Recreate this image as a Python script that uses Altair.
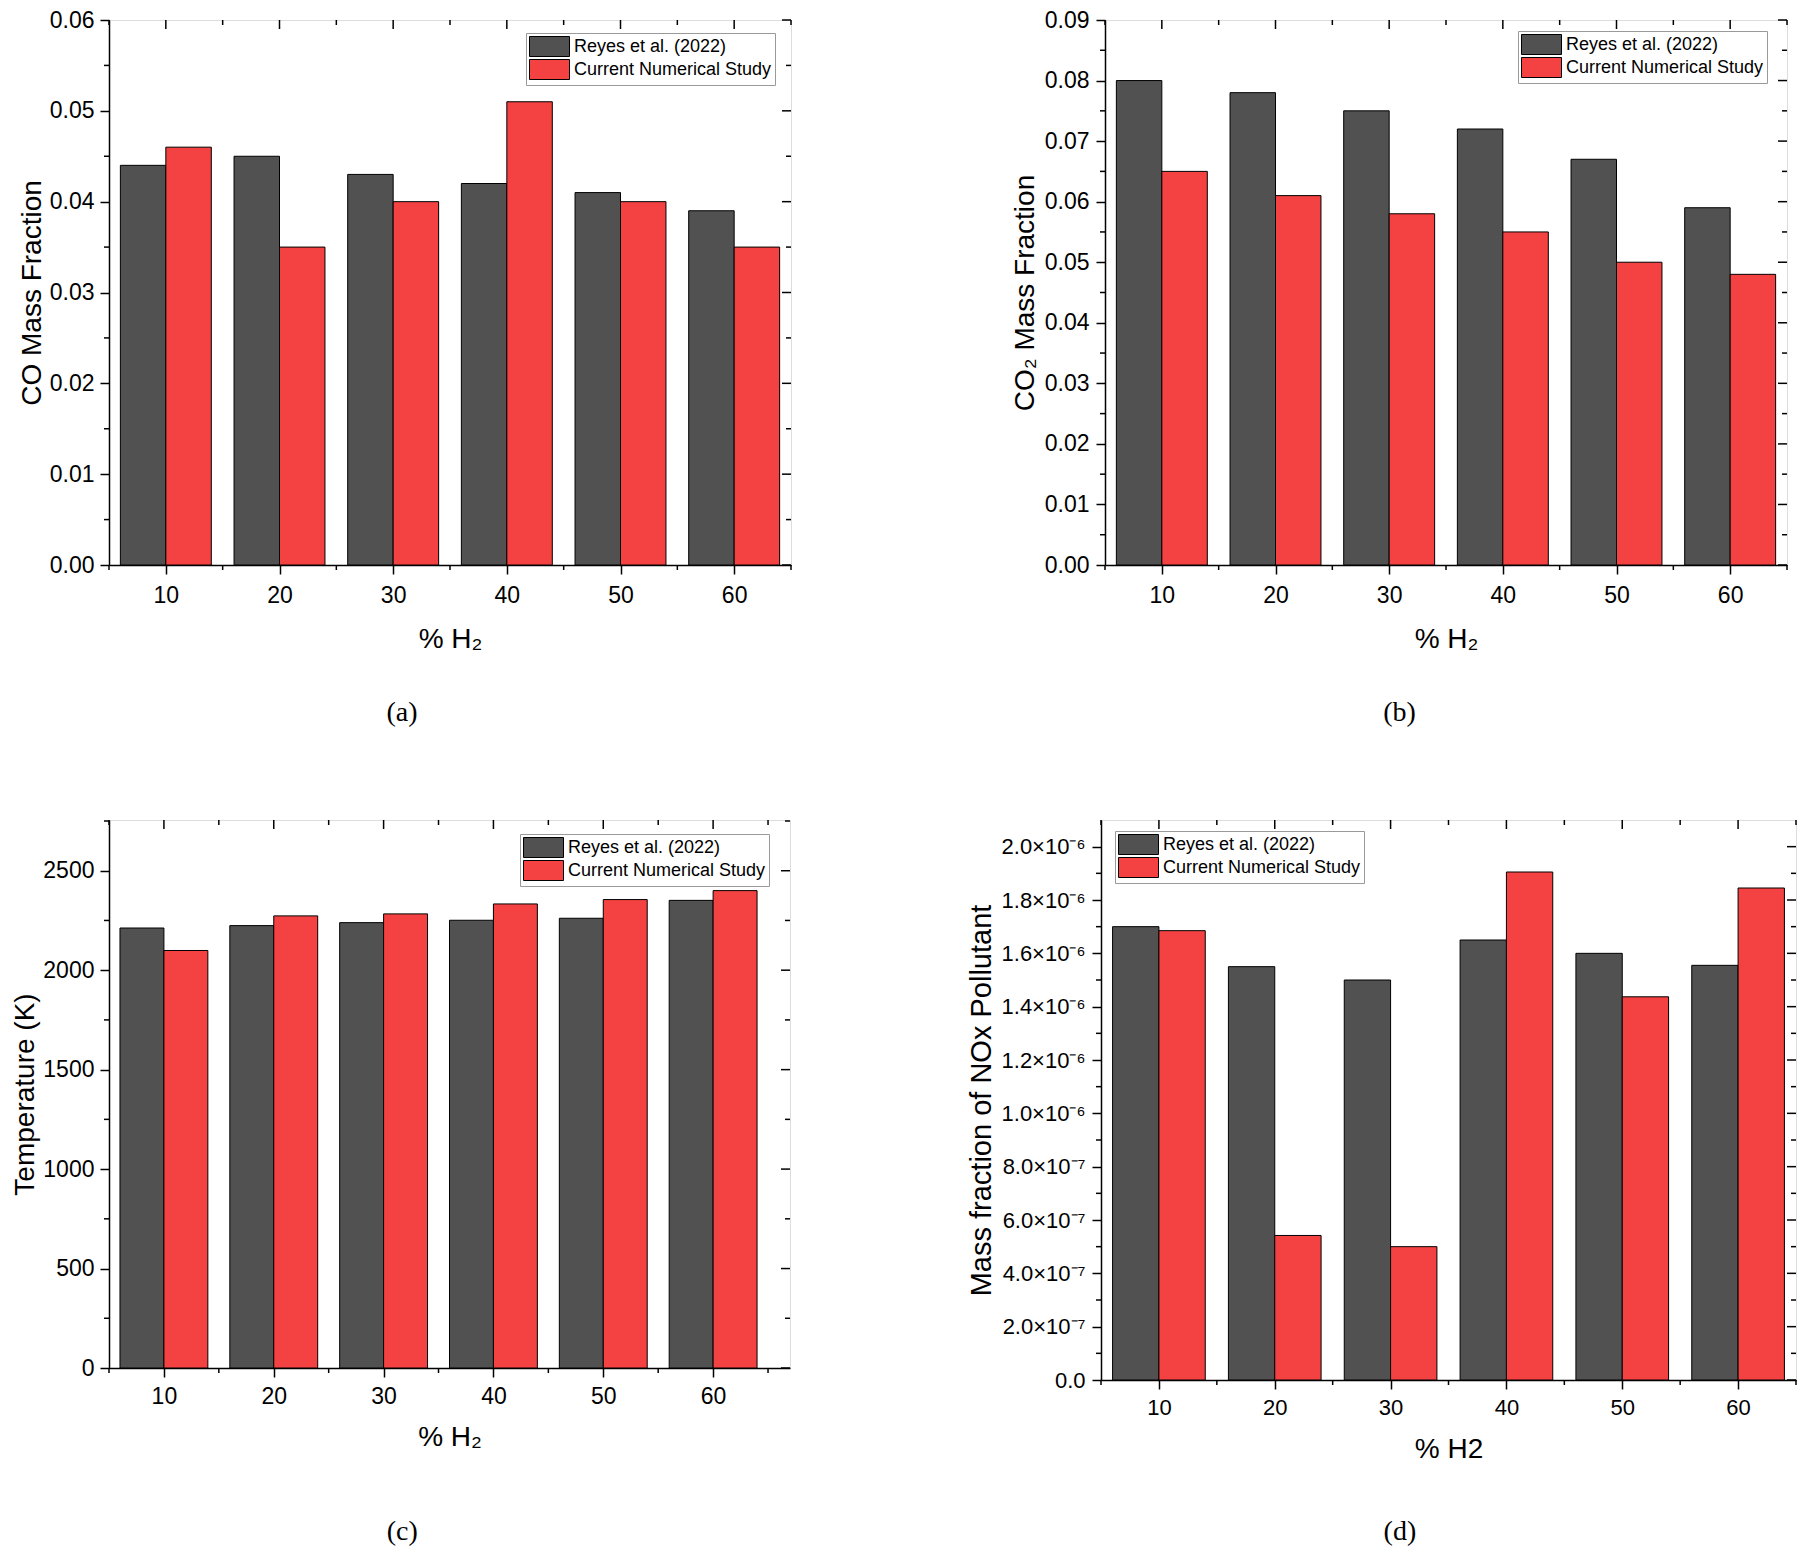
import altair as alt
import pandas as pd

# ---------------- data ----------------
h2 = [10, 20, 30, 40, 50, 60]
series_names = ["Reyes et al. (2022)", "Current Numerical Study"]

co_reyes = [0.044, 0.045, 0.043, 0.042, 0.041, 0.039]
co_current = [0.046, 0.035, 0.040, 0.051, 0.040, 0.035]

co2_reyes = [0.080, 0.078, 0.075, 0.072, 0.067, 0.059]
co2_current = [0.065, 0.061, 0.058, 0.055, 0.050, 0.048]

temp_reyes = [2212, 2224, 2239, 2251, 2261, 2351]
temp_current = [2099, 2273, 2283, 2333, 2355, 2400]

nox_reyes = [1.70e-6, 1.55e-6, 1.50e-6, 1.65e-6, 1.60e-6, 1.555e-6]
nox_current = [1.685e-6, 0.542e-6, 0.50e-6, 1.905e-6, 1.437e-6, 1.845e-6]

# tick values
x_major = [10, 20, 30, 40, 50, 60]
x_minor = [5, 15, 25, 35, 45, 55, 65]
co_major = [0.0, 0.01, 0.02, 0.03, 0.04, 0.05, 0.06]
co_minor = [0.005, 0.015, 0.025, 0.035, 0.045, 0.055]
co2_major = [0.0, 0.01, 0.02, 0.03, 0.04, 0.05, 0.06, 0.07, 0.08, 0.09]
co2_minor = [0.005, 0.015, 0.025, 0.035, 0.045, 0.055, 0.065, 0.075, 0.085]
temp_major = [0, 500, 1000, 1500, 2000, 2500]
temp_minor = [250, 750, 1250, 1750, 2250, 2750]
nox_major = [0.0, 2e-7, 4e-7, 6e-7, 8e-7, 1.0e-6, 1.2e-6, 1.4e-6, 1.6e-6, 1.8e-6, 2.0e-6]
nox_minor = [1e-7, 3e-7, 5e-7, 7e-7, 9e-7, 1.1e-6, 1.3e-6, 1.5e-6, 1.7e-6, 1.9e-6]

# ---------------- style ----------------
DARK = "#515151"
RED = "#F44242"
SANS = "Liberation Sans"
SERIF = "Liberation Serif"
BAR_W = 4
MAJOR_LEN = 9
MINOR_LEN = 5


def bars_df(reyes, current):
    return pd.DataFrame({
        "h2": h2 + h2,
        "series": [series_names[0]] * len(h2) + [series_names[1]] * len(h2),
        "value": list(reyes) + list(current),
    })


def tick_rules(vals, side, length, W, H, xs, ys):
    df = pd.DataFrame({"t": vals})
    if side == "left":
        enc = dict(y=alt.Y("t:Q", scale=ys), x=alt.value(0), x2=alt.value(-length))
    elif side == "right":
        enc = dict(y=alt.Y("t:Q", scale=ys), x=alt.value(W), x2=alt.value(W - length))
    elif side == "bottom":
        enc = dict(x=alt.X("t:Q", scale=xs), y=alt.value(H), y2=alt.value(H + length))
    else:
        enc = dict(x=alt.X("t:Q", scale=xs), y=alt.value(0), y2=alt.value(length))
    return alt.Chart(df).mark_rule(color="black", strokeWidth=1.5).encode(**enc)


def panel(reyes, current, ytitle, xtitle, caption, W, H, xdom, ydom,
          ymajor, yminor, legend_xy, yfmt=None, ylabelexpr=None,
          title_size=28, ytitle_size=28, label_size=23, xlabel_pad=10, xtitle_pad=18,
          cap_offset=46, cap_dx=0, ytitle_pad=5, ylabel_pad=7):
    xs = alt.Scale(domain=xdom, nice=False, zero=False)
    ys = alt.Scale(domain=ydom, nice=False, zero=True)
    yaxis_kw = dict(
        values=ymajor, title=ytitle, tickSize=MAJOR_LEN, tickWidth=1.5, tickColor="black",
        domainColor="black", domainWidth=1.5, labelFont=SANS, labelFontSize=label_size,
        labelColor="black", labelPadding=ylabel_pad, titleFont=SANS, titleFontSize=ytitle_size,
        titleFontWeight="normal", titleColor="black", titlePadding=ytitle_pad, grid=False,
    )
    if yfmt is not None:
        yaxis_kw["format"] = yfmt
    if ylabelexpr is not None:
        yaxis_kw["labelExpr"] = ylabelexpr
    bars = alt.Chart(bars_df(reyes, current)).transform_calculate(
        x0=f"datum.series == '{series_names[0]}' ? datum.h2 - {BAR_W} : datum.h2",
        x1=f"datum.series == '{series_names[0]}' ? datum.h2 : datum.h2 + {BAR_W}",
        base="0",
    ).mark_bar(stroke="black", strokeWidth=1, opacity=1).encode(
        x=alt.X("x0:Q", scale=xs, axis=alt.Axis(
            values=x_major, title=xtitle, format="d", tickSize=MAJOR_LEN, tickWidth=1.5,
            tickColor="black", domainColor="black", domainWidth=1.5, labelFont=SANS,
            labelFontSize=label_size, labelColor="black", labelPadding=xlabel_pad,
            titleFont=SANS, titleFontSize=title_size, titleFontWeight="normal",
            titleColor="black", titlePadding=xtitle_pad, grid=False)),
        x2="x1:Q",
        y=alt.Y("value:Q", scale=ys, axis=alt.Axis(**yaxis_kw)),
        y2="base:Q",
        fill=alt.Fill("series:N", scale=alt.Scale(domain=series_names, range=[DARK, RED]),
                      legend=alt.Legend(
                          title=None, orient="none", legendX=legend_xy[0], legendY=legend_xy[1],
                          symbolType="M-1,-1H3V1H-1Z", symbolSize=400,
                          symbolStrokeColor="black", symbolStrokeWidth=1, symbolOpacity=1,
                          labelOffset=24, labelFont=SANS, labelFontSize=18, labelColor="black",
                          labelLimit=0, strokeColor="#9a9a9a", fillColor="white",
                          padding=3, rowPadding=-2)),
    )
    layers = [
        bars,
        tick_rules(yminor, "left", MINOR_LEN, W, H, xs, ys),
        tick_rules(ymajor, "right", MAJOR_LEN, W, H, xs, ys),
        tick_rules(yminor, "right", MINOR_LEN, W, H, xs, ys),
        tick_rules(x_minor, "bottom", MINOR_LEN, W, H, xs, ys),
        tick_rules(x_major, "top", MAJOR_LEN, W, H, xs, ys),
        tick_rules(x_minor, "top", MINOR_LEN, W, H, xs, ys),
    ]
    return alt.layer(*layers).properties(
        width=W, height=H,
        title=alt.TitleParams(text=caption, orient="bottom", anchor="middle", frame="bounds",
                              font=SERIF, fontSize=28, fontWeight="normal", color="black",
                              offset=cap_offset, dx=cap_dx),
    )


nox_expr = ("datum.value == 0 ? '0.0' : (datum.value < 9.5e-7 ? "
            "format(datum.value * 1e7, '.1f') + '×10⁻⁷' : "
            "format(datum.value * 1e6, '.1f') + '×10⁻⁶')")

pa = panel(co_reyes, co_current, "CO Mass Fraction", "% H₂", "(a)", 682, 545,
           [5, 65], [0, 0.06], co_major, co_minor, (417, 13), yfmt=".2f", cap_dx=-3,
           ytitle_pad=3, ylabel_pad=6)
pb = panel(co2_reyes, co2_current, "CO₂ Mass Fraction", "% H₂", "(b)", 682, 545,
           [5, 65], [0, 0.09], co2_major, co2_minor, (413, 11), yfmt=".2f")
pc = panel(temp_reyes, temp_current, "Temperature (K)", "% H₂", "(c)", 681, 548,
           [5, 67], [0, 2755], temp_major, temp_minor, (411, 14), yfmt="d",
           xlabel_pad=8, xtitle_pad=15, cap_offset=67, cap_dx=1, ytitle_pad=3, ylabel_pad=6)
pd_ = panel(nox_reyes, nox_current, "Mass fraction of NOx Pollutant", "% H2", "(d)", 695, 560,
            [5, 65], [0, 2.1e-6], nox_major, nox_minor, (14, 11), ylabelexpr=nox_expr,
            ytitle_size=29, label_size=22, xlabel_pad=8, xtitle_pad=17, cap_offset=55,
            cap_dx=18)

row1 = alt.hconcat(pa, pb, spacing=217).resolve_scale(fill="independent").resolve_legend(fill="independent")
row2 = alt.hconcat(pc, pd_, spacing=174).resolve_scale(fill="independent").resolve_legend(fill="independent")
chart = alt.vconcat(row1, row2, spacing=90).resolve_scale(fill="independent").resolve_legend(
    fill="independent"
).properties(
    padding={"left": 3, "top": 0, "right": 0, "bottom": 0}
).configure_view(stroke="black", strokeWidth=1.5).configure(background="white")

chart.save("out.html", embed_options={"renderer": "svg", "actions": False})
